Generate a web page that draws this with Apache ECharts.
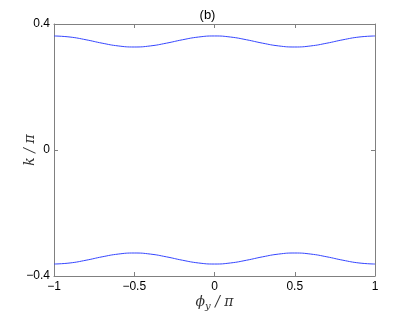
<!DOCTYPE html>
<html><head><meta charset="utf-8">
<script src="https://cdn.jsdelivr.net/npm/echarts@6/dist/echarts.min.js"></script>
<style>html,body{margin:0;padding:0;background:#fff}#c{width:415px;height:312px}</style>
</head><body><div id="c"></div>
<script>
const phi = [-1,-0.9,-0.8,-0.7,-0.6,-0.5,-0.4,-0.3,-0.2,-0.1,0,0.1,0.2,0.3,0.4,0.5,0.6,0.7,0.8,0.9,1];
const upper = [0.362,0.3586,0.3499,0.3391,0.3304,0.327,0.3304,0.3391,0.3499,0.3586,0.362,0.3586,0.3499,0.3391,0.3304,0.327,0.3304,0.3391,0.3499,0.3586,0.362];
const lower = [-0.362,-0.3586,-0.3499,-0.3391,-0.3304,-0.327,-0.3304,-0.3391,-0.3499,-0.3586,-0.362,-0.3586,-0.3499,-0.3391,-0.3304,-0.327,-0.3304,-0.3391,-0.3499,-0.3586,-0.362];
const xTicks = [-1,-0.5,0,0.5,1];
const yTicks = [-0.4,0,0.4];

const axisGrey = '#808080';
const font = 'Liberation Sans, Arial, sans-serif';
const chart = echarts.init(document.getElementById('c'));
function pairs(ys){ return phi.map((x,i)=>[x,ys[i]]); }
const fmt = v => (v<0 ? '\u2212' + String(-v) : String(v));
const serif = 'DejaVu Serif, serif';
chart.setOption({
  animation:false,
  title:{text:'(b)',left:'center',top:4,textStyle:{fontFamily:font,fontSize:13,fontWeight:'normal',color:'#000'}},
  grid:{left:54,right:40,top:24,bottom:36,containLabel:false,outerBoundsMode:'none'},
  xAxis:[{
    type:'value',min:-1,max:1,interval:0.5,position:'bottom',
    axisLine:{onZero:false,lineStyle:{color:axisGrey,width:1}},
    axisTick:{inside:true,length:4,lineStyle:{color:axisGrey}},
    splitLine:{show:false},
    axisLabel:{color:'#000',fontFamily:font,fontSize:12,margin:5,formatter:v=>fmt(v)},
    name:'{i|ϕ}{s|y}{i| / π}',nameLocation:'middle',nameGap:19,nameMoveOverlap:false,
    nameTextStyle:{rich:{i:{fontFamily:serif,fontStyle:'italic',fontSize:14,color:'#333',verticalAlign:'top',lineHeight:16},s:{fontFamily:serif,fontStyle:'italic',fontSize:10,color:'#333',verticalAlign:'bottom',lineHeight:10,padding:[6,0,0,0]}}}
  },{
    type:'value',min:-1,max:1,interval:0.5,position:'top',
    axisLine:{onZero:false,lineStyle:{color:axisGrey}},axisTick:{inside:true,length:4,lineStyle:{color:axisGrey}},
    axisLabel:{show:false},splitLine:{show:false}
  }],
  yAxis:[{
    type:'value',min:-0.4,max:0.4,interval:0.4,position:'left',
    axisLine:{show:true,onZero:false,lineStyle:{color:axisGrey}},
    axisTick:{show:true,inside:true,length:4,lineStyle:{color:axisGrey}},
    splitLine:{show:false},
    axisLabel:{color:'#000',fontFamily:font,fontSize:12,margin:4,formatter:v=>fmt(v)},
    name:'k / π',nameLocation:'middle',nameGap:17,nameRotate:90,nameMoveOverlap:false,
    nameTextStyle:{fontFamily:serif,fontStyle:'italic',fontSize:14,color:'#333'}
  },{
    type:'value',min:-0.4,max:0.4,interval:0.4,position:'right',
    axisLine:{show:true,onZero:false,lineStyle:{color:axisGrey}},
    axisTick:{show:true,inside:true,length:4,lineStyle:{color:axisGrey}},
    axisLabel:{show:false},splitLine:{show:false}
  }],
  series:[
    {type:'line',data:pairs(upper),smooth:true,showSymbol:false,lineStyle:{color:'#3344ff',width:1}},
    {type:'line',data:pairs(lower),smooth:true,showSymbol:false,lineStyle:{color:'#3344ff',width:1}}
  ]
});
</script></body></html>
